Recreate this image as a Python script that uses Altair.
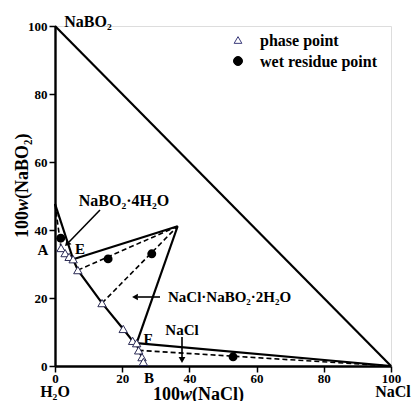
import altair as alt
import pandas as pd

FONT = "Liberation Serif"

# phase points (solubility curve), 100w(NaCl), 100w(NaBO2)
phase_x = [1.8, 3.0, 4.2, 5.4, 6.8, 14.0, 20.3, 23.1, 24.3, 24.9, 25.9, 26.3]
phase_y = [34.7, 33.2, 32.1, 31.4, 28.2, 18.5, 10.9, 7.4, 6.7, 4.6, 2.6, 1.2]
# end of the curve on the NaCl axis (point B)
curve_end_x = [26.4]
curve_end_y = [0.0]

# wet residue points
wet_x = [1.7, 15.8, 28.8, 53.0]
wet_y = [37.6, 31.5, 33.0, 2.7]

# tie lines (solid): hydrate->E, E->double salt, double salt->F, F->NaCl, NaBO2->NaCl
solid_x1 = [0.0, 5.4, 36.5, 24.3, 0.0]
solid_y1 = [47.7, 31.4, 41.1, 6.7, 100.0]
solid_x2 = [5.4, 36.5, 24.3, 100.0, 100.0]
solid_y2 = [31.4, 41.1, 6.7, 0.0, 0.0]

# tie lines (dashed)
dash_x1 = [0.0, 6.8, 14.0, 24.9]
dash_y1 = [47.7, 28.2, 18.5, 4.6]
dash_x2 = [1.8, 36.5, 36.5, 100.0]
dash_y2 = [34.7, 41.1, 41.1, 0.0]

tick_values = list(range(0, 101, 10))

OX, OY = 55, 26  # plot origin in page pixels
W, H = 336, 340

phase_df = pd.DataFrame({"x": phase_x, "y": phase_y})
curve_df = pd.DataFrame({"x": phase_x + curve_end_x, "y": phase_y + curve_end_y,
                         "o": list(range(len(phase_x) + 1))})
wet_df = pd.DataFrame({"x": wet_x, "y": wet_y})
solid_df = pd.DataFrame({"x": solid_x1, "y": solid_y1, "x2": solid_x2, "y2": solid_y2})
dash_df = pd.DataFrame({"x": dash_x1, "y": dash_y1, "x2": dash_x2, "y2": dash_y2})
one = pd.DataFrame({"a": [0]})

xs = alt.Scale(domain=[0, 100], nice=False)
ys = alt.Scale(domain=[0, 100], nice=False)
lab = "datum.value % 20 == 0 ? datum.label : ''"
common = dict(values=tick_values, labelExpr=lab, title=None, grid=False,
              tickSize=6, tickWidth=1.5, domainWidth=2.4, domainColor="black",
              tickColor="black", labelFont=FONT, labelFontWeight="bold",
              labelFontSize=13, labelColor="black", labelFlush=False,
              labelOverlap=False)
xaxis = alt.Axis(labelPadding=0, **common)
yaxis = alt.Axis(labelPadding=2, **common)

base_axes = alt.Chart(phase_df).mark_point(opacity=0).encode(
    x=alt.X("x:Q", scale=xs, axis=xaxis),
    y=alt.Y("y:Q", scale=ys, axis=yaxis),
)

solid = alt.Chart(solid_df).mark_rule(color="black", strokeWidth=2.2).encode(
    x=alt.X("x:Q", scale=xs), y=alt.Y("y:Q", scale=ys), x2="x2:Q", y2="y2:Q")
dashed = alt.Chart(dash_df).mark_rule(color="black", strokeWidth=1.6, strokeDash=[5, 3]).encode(
    x=alt.X("x:Q", scale=xs), y=alt.Y("y:Q", scale=ys), x2="x2:Q", y2="y2:Q")
curve = alt.Chart(curve_df).mark_line(color="black", strokeWidth=2.2).encode(
    x=alt.X("x:Q", scale=xs), y=alt.Y("y:Q", scale=ys), order="o:Q")
tri = alt.Chart(phase_df).mark_point(shape="triangle-up", filled=True, fill="white",
                                     stroke="#2b2b55", strokeWidth=1, size=70, opacity=1).encode(
    x=alt.X("x:Q", scale=xs), y=alt.Y("y:Q", scale=ys))
wet = alt.Chart(wet_df).mark_point(shape="circle", filled=True, color="black", size=80, opacity=1).encode(
    x=alt.X("x:Q", scale=xs), y=alt.Y("y:Q", scale=ys))


def txt(s, px, py, size=15, align="center", angle=0, style="normal", baseline="middle"):
    return alt.Chart(one).mark_text(text=s, font=FONT, fontSize=size, fontWeight="bold",
                                    fontStyle=style, align=align, baseline=baseline,
                                    angle=angle, color="black").encode(
        x=alt.value(px - OX), y=alt.value(py - OY))


def rule(x1, y1, x2, y2, w=1.6):
    return alt.Chart(one).mark_rule(color="black", strokeWidth=w).encode(
        x=alt.value(x1 - OX), y=alt.value(y1 - OY), x2=alt.value(x2 - OX), y2=alt.value(y2 - OY))


def head(px, py, ang, size=45):
    return alt.Chart(one).mark_point(shape="triangle-up", filled=True, color="black",
                                     size=size, angle=ang, opacity=1).encode(
        x=alt.value(px - OX), y=alt.value(py - OY))


def legend_mark(px, py, shape, fill, stroke, size):
    return alt.Chart(one).mark_point(shape=shape, filled=True, fill=fill, stroke=stroke,
                                     strokeWidth=1, size=size, opacity=1).encode(
        x=alt.value(px - OX), y=alt.value(py - OY))


annotations = [
    txt("NaBO₂", 88, 22, 16),
    txt("A", 43, 250, 15),
    txt("E", 80, 249, 15),
    txt("F", 148, 339, 15),
    txt("B", 149, 378, 15),
    txt("H₂O", 55, 392, 16),
    txt("NaCl", 393, 392, 16),
    txt("NaBO₂·4H₂O", 124, 201, 16),
    txt("NaCl·NaBO₂·2H₂O", 168, 297, 15, align="left"),
    txt("NaCl", 182, 330, 15),
    # x title
    txt("100", 180, 395, 18, align="right"),
    txt("w", 180, 395, 18, align="left", style="italic"),
    txt("(NaCl)", 192, 395, 18, align="left"),
    # y title
    txt("100", 23, 211, 18, align="right", angle=270),
    txt("w", 23, 211, 18, align="left", angle=270, style="italic"),
    txt("(NaBO₂)", 23, 199, 18, align="left", angle=270),
    # legend
    legend_mark(238, 40, "triangle-up", "white", "#3a3a7a", 60),
    legend_mark(238, 61, "circle", "black", "black", 80),
    txt("phase point", 260, 41, 16, align="left"),
    txt("wet residue point", 260, 62, 16, align="left"),
    # arrows
    rule(100, 210, 69, 242),
    head(67, 244, 224),
    rule(160, 297, 138, 297),
    head(135, 297, 270),
    rule(182, 337, 182, 357),
    head(182, 360, 180),
]

chart = alt.layer(base_axes, solid, dashed, curve, wet, tri, *annotations).properties(
    width=W, height=H,
    autosize=alt.AutoSizeParams(type="none"),
    padding={"left": OX, "top": OY, "right": 412 - OX - W, "bottom": 401 - OY - H},
).configure_view(stroke=None).configure(background="white")

chart.save("out.html", embed_options={"renderer": "svg", "actions": False})
